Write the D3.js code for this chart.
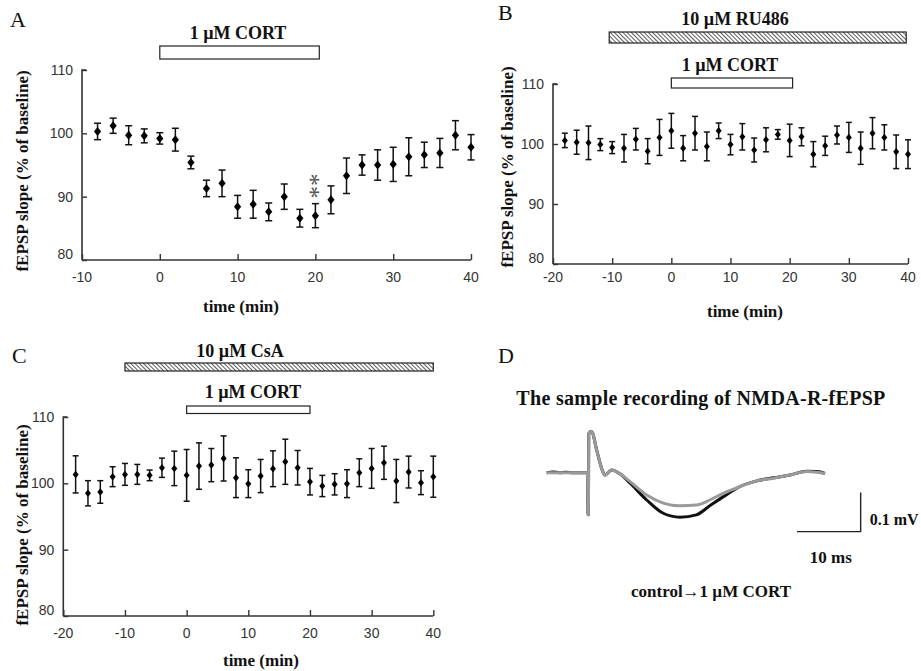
<!DOCTYPE html>
<html><head><meta charset="utf-8">
<script src="https://cdn.jsdelivr.net/npm/d3@7"></script>
<style>
html,body{margin:0;padding:0;background:#fff;}
svg{display:block;}
</style>
</head><body>
<svg id="chart" width="921" height="671"></svg>
<script>
// ---------- DATA ----------
// Panel A: 1 µM CORT alone
const timeA = [-8,-6,-4,-2,0,2,4,6,8,10,12,14,16,18,20,22,24,26,28,30,32,34,36,38,40];
const meanA = [100.3,101.2,99.7,99.6,99.2,99.0,95.4,91.3,92.1,88.4,88.8,87.6,90.0,86.6,87.0,89.5,93.3,95.0,95.0,95.1,96.3,96.6,96.9,99.7,97.8];
const semA  = [1.3,1.2,1.5,1.1,0.9,1.8,1.0,1.3,2.1,1.8,2.2,1.4,2.0,1.4,1.9,2.2,2.8,1.6,2.4,2.7,3.0,2.0,2.3,2.3,2.0];

// Panel B: RU486 + CORT
const timeB = [-18,-16,-14,-12,-10,-8,-6,-4,-2,0,2,4,6,8,10,12,14,16,18,20,22,24,26,28,30,32,34,36,38,40];
const meanB = [100.6,100.3,100.2,99.9,99.4,99.3,100.8,98.8,101.1,102.2,99.3,101.8,99.6,102.2,99.9,101.2,99.0,100.7,101.6,100.6,101.2,98.3,99.7,101.5,101.1,99.3,101.8,101.1,98.7,98.3];
const semB  = [1.2,2.0,2.8,1.0,1.0,2.3,1.8,2.1,3.0,2.9,2.1,2.8,2.4,1.3,1.7,2.2,2.0,2.0,0.8,2.7,1.5,2.1,1.6,1.5,2.5,2.7,2.6,2.1,2.8,2.4];

// Panel C: CsA + CORT
const timeC = [-18,-16,-14,-12,-10,-8,-6,-4,-2,0,2,4,6,8,10,12,14,16,18,20,22,24,26,28,30,32,34,36,38,40];
const meanC = [101.35,98.5,98.7,101.0,101.35,101.35,101.2,102.35,102.25,101.2,102.6,102.75,103.75,100.85,99.95,101.1,102.2,103.25,102.35,100.25,99.6,99.85,99.95,101.6,102.25,103.1,100.35,101.7,100.1,101.0];
const semC  = [2.8,1.9,1.7,1.5,1.65,1.5,0.8,1.45,2.6,3.9,3.5,2.5,3.4,3.0,2.1,2.5,2.7,3.4,2.6,2.0,1.6,1.6,2.1,2.1,3.0,2.5,3.25,2.4,1.8,3.1];

// tick labels
const yTicks = [80,90,100,110];
const xTicksA = [-10,0,10,20,30,40];
const xTicksBC = [-20,-10,0,10,20,30,40];

// drug application periods (min)
const cortPeriod = [0,20.5];
const ru486Period = [-10.5,39.7];
const csaPeriod = [-10,40];
const cortPeriodC = [0,20];

// Panel D: sample traces (time in ms, amplitude in mV)
const traceT = [0,1,2,3,4,5,6,6.4,6.5,6.55,6.6,6.8,7.06,7.85,8.63,9.15,10.2,11.5,13.1,15.7,18.3,20.9,23.5,25.6,27.7,30.3,33.0,35.6,38.2,40.8,42.5,43.7];
const controlV = [0,0.002,0,0.001,0,0,0,0,-0.108,-0.108,0.1,0.105,0.105,0.058,0.011,-0.006,0.007,-0.003,-0.027,-0.070,-0.104,-0.114,-0.108,-0.085,-0.062,-0.036,-0.021,-0.013,-0.006,0.004,0.003,-0.002];
const cortV    = [0,0,0,0,0,0,0,0,-0.108,-0.108,0.1,0.105,0.105,0.058,0.011,-0.006,0.007,-0.003,-0.023,-0.057,-0.078,-0.085,-0.083,-0.070,-0.053,-0.036,-0.021,-0.014,-0.006,0.003,0.001,-0.002];

// ---------- DRAWING ----------
const svg = d3.select("#chart");
svg.append("rect").attr("width",921).attr("height",671).attr("fill","#fff");

const defs = svg.append("defs");
const pat = defs.append("pattern").attr("id","hatch").attr("patternUnits","userSpaceOnUse")
  .attr("width",3).attr("height",3).attr("patternTransform","rotate(-45)");
pat.append("rect").attr("width",3).attr("height",3).attr("fill","#fff");
pat.append("line").attr("x1",0).attr("y1",0).attr("x2",0).attr("y2",3).attr("stroke","#333").attr("stroke-width",1.6);

const serif = "'Liberation Serif','Times New Roman',serif";
const sans = "'Liberation Sans',Arial,sans-serif";

function panel(cfg){
  const g = svg.append("g");
  const x = d3.scaleLinear().domain(cfg.xDomain).range(cfg.xRange);
  const y = d3.scaleLinear().domain([80,110]).range(cfg.yRange);
  const axCol = "#333";

  const yAxis = d3.axisRight(y).tickValues(yTicks).tickSize(5).tickFormat("");
  const ya = g.append("g").attr("transform",`translate(${cfg.xRange[0]},0)`).call(yAxis);
  const xAxis = d3.axisTop(x).tickValues(cfg.xTicks).tickSize(6).tickFormat("");
  const xa = g.append("g").attr("transform",`translate(0,${cfg.yRange[0]})`).call(xAxis);
  [ya,xa].forEach(a=>{
    a.selectAll("path.domain").attr("stroke",axCol).attr("stroke-width",1.6)
      .attr("d", a===ya ? `M0,${cfg.yRange[0]}V${cfg.yRange[1]}H4` : `M${cfg.xRange[0]},0H${cfg.xRange[1]}`);
    a.selectAll(".tick line").attr("stroke",axCol).attr("stroke-width",1.4);
  });
  g.selectAll(".ylab").data(yTicks).join("text")
    .attr("x",cfg.xRange[0]-9).attr("y",d=>y(d)+ (d===80?-1:5))
    .attr("text-anchor","end").attr("font-family",sans).attr("font-size",14).attr("fill","#333")
    .text(d=>d);
  g.selectAll(".xlab").data(cfg.xTicks).join("text")
    .attr("x",d=>x(d)).attr("y",cfg.yRange[0]+cfg.xLabDy)
    .attr("text-anchor","middle").attr("font-family",sans).attr("font-size",14).attr("fill","#333")
    .text(d=>d);

  g.append("text").attr("transform",`translate(${cfg.yTitleX},${cfg.yTitleY}) rotate(-90)`)
    .attr("text-anchor","middle").attr("font-family",serif).attr("font-weight","bold")
    .attr("font-size",17).attr("fill","#111").text("fEPSP slope (% of baseline)");
  g.append("text").attr("x",cfg.xTitleX).attr("y",cfg.xTitleY)
    .attr("text-anchor","middle").attr("font-family",serif).attr("font-weight","bold")
    .attr("font-size",17).attr("fill","#111").text("time (min)");

  g.append("text").attr("x",cfg.letterX).attr("y",cfg.letterY)
    .attr("font-family",serif).attr("font-size",22).attr("fill","#111").text(cfg.letter);

  cfg.bars.forEach(b=>{
    g.append("rect").attr("x",x(b.period[0])).attr("y",b.y)
      .attr("width",x(b.period[1])-x(b.period[0])).attr("height",b.h)
      .attr("fill", b.hatch ? "url(#hatch)" : "#fff").attr("stroke","#222").attr("stroke-width",1.2);
    g.append("text").attr("x",b.labelX).attr("y",b.labelY).attr("text-anchor","middle")
      .attr("font-family",serif).attr("font-weight","bold").attr("font-size",18).attr("fill","#111")
      .text(b.label);
  });

  const pts = cfg.t.map((t,i)=>({t, m:cfg.m[i], e:cfg.e[i]}));
  const eg = g.append("g").attr("stroke","#111").attr("stroke-width",1.5);
  pts.forEach(p=>{
    const cx = x(p.t), y1 = y(p.m+p.e), y0 = y(p.m-p.e);
    eg.append("line").attr("x1",cx).attr("x2",cx).attr("y1",y1).attr("y2",y0);
    eg.append("line").attr("x1",cx-cfg.cap).attr("x2",cx+cfg.cap).attr("y1",y1).attr("y2",y1);
    eg.append("line").attr("x1",cx-cfg.cap).attr("x2",cx+cfg.cap).attr("y1",y0).attr("y2",y0);
  });
  const r = cfg.mk;
  g.selectAll(".pt").data(pts).join("path")
    .attr("d",p=>{const cx=x(p.t), cy=y(p.m); return `M${cx},${cy-r*1.25}L${cx+r},${cy}L${cx},${cy+r*1.25}L${cx-r},${cy}Z`;})
    .attr("fill","#000");
  return {g,x,y};
}

const A = panel({
  letter:"A", letterX:10, letterY:27,
  xDomain:[-10,40], xRange:[82,471], yRange:[260,70], xTicks:xTicksA, xLabDy:22,
  yTitleX:28, yTitleY:171, xTitleX:241, xTitleY:312,
  t:timeA, m:meanA, e:semA, cap:3.5, mk:3.6,
  bars:[{period:cortPeriod, y:46, h:13, hatch:false, label:"1 µM CORT", labelX:238, labelY:39}]
});
// significance asterisks (**) above t = 20 min, stacked vertically (one text, rotated)
A.g.append("text")
  .attr("transform",`translate(${A.x(20)-13},${A.y(91.7)}) rotate(90)`)
  .attr("text-anchor","middle").attr("font-family",serif).attr("font-size",25)
  .attr("fill","#555").text("**");

panel({
  letter:"B", letterX:498, letterY:20,
  xDomain:[-20,40], xRange:[553,908], yRange:[264,84], xTicks:xTicksBC, xLabDy:18,
  yTitleX:513, yTitleY:167, xTitleX:745, xTitleY:317,
  t:timeB, m:meanB, e:semB, cap:3, mk:3,
  bars:[{period:ru486Period, y:32, h:11, hatch:true, label:"10 µM RU486", labelX:735, labelY:25},
        {period:cortPeriod, y:78, h:10, hatch:false, label:"1 µM CORT", labelX:730, labelY:71}]
});

panel({
  letter:"C", letterX:12, letterY:363,
  xDomain:[-20,40], xRange:[63.3,433.3], yRange:[616,417], xTicks:xTicksBC, xLabDy:22,
  yTitleX:28, yTitleY:525, xTitleX:261, xTitleY:666,
  t:timeC, m:meanC, e:semC, cap:3, mk:3,
  bars:[{period:csaPeriod, y:363, h:8, hatch:true, label:"10 µM CsA", labelX:240, labelY:357},
        {period:cortPeriodC, y:406, h:7.5, hatch:false, label:"1 µM CORT", labelX:253, labelY:398}]
});

// ---------- Panel D ----------
const gd = svg.append("g");
gd.append("text").attr("x",498).attr("y",363).attr("font-family",serif).attr("font-size",22).attr("fill","#111").text("D");
gd.append("text").attr("x",701).attr("y",405).attr("text-anchor","middle")
  .attr("font-family",serif).attr("font-weight","bold").attr("font-size",20).attr("letter-spacing",0.3).attr("fill","#111")
  .text("The sample recording of NMDA-R-fEPSP");
const xd = d3.scaleLinear().domain([0,43.7]).range([546.7,825]);
const yd = d3.scaleLinear().domain([-0.1,0.1]).range([511.7,433.7]);
const line = d3.line().x(d=>xd(d[0])).y(d=>yd(d[1])).curve(d3.curveMonotoneX);
gd.append("path").attr("d",line(traceT.map((t,i)=>[t,controlV[i]])))
  .attr("fill","none").attr("stroke","#111").attr("stroke-width",3).attr("stroke-linejoin","round");
gd.append("path").attr("d",line(traceT.map((t,i)=>[t,cortV[i]])))
  .attr("fill","none").attr("stroke","#9a9a9a").attr("stroke-width",3).attr("stroke-linejoin","round");
const sbT0 = 39.3, sbV0 = -0.151;
gd.append("path").attr("d",`M${xd(sbT0)},${yd(sbV0)}H${xd(sbT0+10)}V${yd(sbV0+0.1)}`)
  .attr("fill","none").attr("stroke","#222").attr("stroke-width",1.4);
gd.append("text").attr("x",xd(sbT0+10)+9).attr("y",yd(sbV0+0.03)+5)
  .attr("font-family",serif).attr("font-weight","bold").attr("font-size",16).attr("fill","#111").text("0.1 mV");
gd.append("text").attr("x",xd(sbT0+5)+2).attr("y",563).attr("text-anchor","middle")
  .attr("font-family",serif).attr("font-weight","bold").attr("font-size",17).attr("fill","#111").text("10 ms");
gd.append("text").attr("x",711).attr("y",597).attr("text-anchor","middle")
  .attr("font-family",serif).attr("font-weight","bold").attr("font-size",17).attr("fill","#111").text("control→1 µM CORT");
</script>
</body></html>
